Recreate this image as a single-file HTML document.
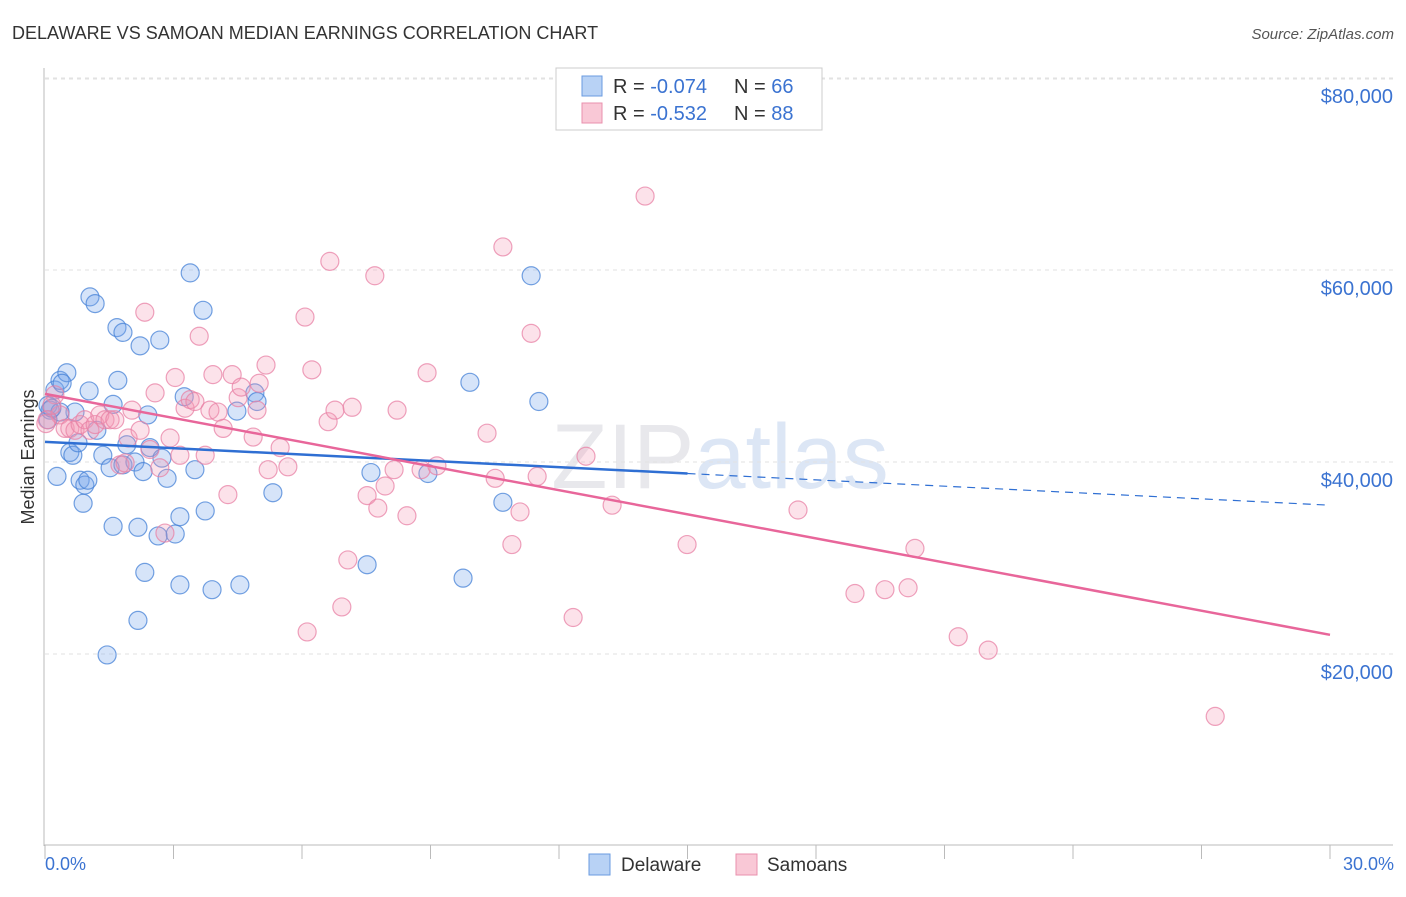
<!DOCTYPE html>
<html><head><meta charset="utf-8"><style>
body{margin:0;background:#fff;font-family:"Liberation Sans",sans-serif;}
svg text{font-family:"Liberation Sans",sans-serif;}
</style></head><body>
<svg id="c" width="1406" height="892" xmlns="http://www.w3.org/2000/svg">
<text x="12" y="39" font-size="18" fill="#333">DELAWARE VS SAMOAN MEDIAN EARNINGS CORRELATION CHART</text>
<text x="1394" y="39" font-size="15" fill="#555" font-style="italic" text-anchor="end">Source: ZipAtlas.com</text>
<text x="720" y="488" font-size="92" fill="#e8e8ec" text-anchor="middle" font-family="Liberation Serif">ZIP<tspan fill="#dce6f5" font-family="Liberation Sans">atlas</tspan></text>
<g id="grid"></g><g id="marks"></g>
<text transform="translate(34,457) rotate(-90)" font-size="18" fill="#333" text-anchor="middle">Median Earnings</text>
<text x="45" y="870" font-size="18" fill="#3b73d1">0.0%</text>
<text x="1394" y="870" font-size="18" fill="#3b73d1" text-anchor="end">30.0%</text>
<g>
<rect x="556" y="68" width="266" height="62" fill="#fff" stroke="#ccc"/>
<rect x="582" y="76" width="20" height="20" fill="#b8d2f5" stroke="#6a9be0"/>
<rect x="582" y="103" width="20" height="20" fill="#f9c8d6" stroke="#e990ad"/>
<text x="613" y="93" font-size="20" fill="#333">R = <tspan fill="#3b73d1">-0.074</tspan></text>
<text x="734" y="93" font-size="20" fill="#333">N = <tspan fill="#3b73d1">66</tspan></text>
<text x="613" y="120" font-size="20" fill="#333">R = <tspan fill="#3b73d1">-0.532</tspan></text>
<text x="734" y="120" font-size="20" fill="#333">N = <tspan fill="#3b73d1">88</tspan></text>
</g>
<g>
<rect x="589" y="854" width="21" height="21" fill="#b8d2f5" stroke="#6a9be0"/>
<text x="621" y="871" font-size="19" fill="#333">Delaware</text>
<rect x="736" y="854" width="21" height="21" fill="#f9c8d6" stroke="#e990ad"/>
<text x="767" y="871" font-size="19" fill="#333">Samoans</text>
</g>
</svg>
<script>
const yTicks=[20000,40000,60000,80000];
const yTickLabels=["$20,000","$40,000","$60,000","$80,000"];
const xTicks=[0,3,6,9,12,15,18,21,24,27,30];
const blueX=[0.12,0.23,0.35,0.51,0.40,0.07,0.28,0.58,0.65,0.70,0.77,0.82,0.89,0.93,1.00,1.03,1.05,1.17,1.21,1.35,1.52,1.59,1.59,1.68,1.70,1.82,1.82,1.91,2.10,2.17,2.22,2.33,2.29,2.40,2.45,2.64,2.68,2.73,2.85,3.04,3.15,3.15,3.25,3.39,3.50,3.69,3.74,3.90,4.48,4.55,4.90,4.95,5.32,7.52,7.61,8.94,9.76,9.92,10.69,11.35,11.53,2.17,1.45,0.07,0.35,0.16];
const blueY=[45.4,47.5,48.5,49.3,48.2,44.4,38.5,41.0,40.7,45.2,42.0,38.1,35.7,37.6,38.1,47.4,57.2,56.5,43.3,40.7,39.4,46.0,33.3,54.0,48.5,53.5,39.7,41.8,40.0,33.2,52.1,28.5,39.0,44.9,41.5,32.3,52.7,40.4,38.3,32.5,34.3,27.2,46.8,59.7,39.2,55.8,34.9,26.7,45.3,27.2,47.2,46.3,36.8,29.3,38.9,38.8,27.9,48.3,35.8,59.4,46.3,23.5,19.9,45.9,45.2,45.6];
const pinkX=[0.23,0.35,0.47,0.58,0.70,0.82,0.93,1.05,1.17,1.28,1.40,1.52,1.63,1.75,1.87,1.94,2.03,2.22,2.33,2.45,2.57,2.68,2.80,2.92,3.04,3.15,3.27,3.39,3.50,3.60,3.74,3.85,3.92,4.04,4.16,4.27,4.37,4.51,4.58,4.86,4.95,5.00,5.16,5.21,5.49,5.67,6.12,6.07,6.23,6.61,6.65,6.77,6.93,7.07,7.17,7.52,7.70,7.77,7.94,8.15,8.22,8.45,8.78,8.92,9.15,10.32,10.51,10.69,10.90,11.09,11.35,11.49,12.33,12.63,13.24,14.01,14.99,17.58,18.91,19.61,20.15,20.31,21.32,22.02,27.32,0.05,0.16,0.02];
const pinkY=[47.0,44.9,43.5,43.5,43.3,43.9,44.4,43.3,43.9,44.9,44.4,44.4,44.4,39.7,39.9,42.5,45.4,43.3,55.6,41.3,47.2,39.4,32.6,42.5,48.8,40.7,45.6,46.5,46.3,53.1,40.7,45.4,49.1,45.2,43.5,36.6,49.1,46.7,47.8,42.6,45.4,48.2,50.1,39.2,41.5,39.5,22.3,55.1,49.6,44.2,60.9,45.4,24.9,29.8,45.7,36.5,59.4,35.2,37.5,39.2,45.4,34.4,39.2,49.3,39.6,43.0,38.3,62.4,31.4,34.8,53.4,38.5,23.8,40.6,35.5,67.7,31.4,35.0,26.3,26.7,26.9,31.0,21.8,20.4,13.5,44.4,45.9,44.0];
const blueTrend=[42.1,35.5];
const pinkTrend=[47.1,22.0];
const NS="http://www.w3.org/2000/svg";
const X=v=>45+v/30*1285;
const Y=v=>846-v/20000*192;
const Yk=v=>Y(v*1000);
function mk(tag,a,parent){const e=document.createElementNS(NS,tag);for(const k in a)e.setAttribute(k,a[k]);parent.appendChild(e);return e;}
const g=document.getElementById('grid'),m=document.getElementById('marks');
yTicks.forEach((t,i)=>{
  const l=mk('line',{x1:45,x2:1393,y1:Y(t),y2:Y(t),stroke:'#e2e2e2','stroke-dasharray':'4,4'},g);
  
  
  const tx=mk('text',{x:1393,y:Y(t)+25,'font-size':20,fill:'#3b73d1','text-anchor':'end'},g);
  tx.textContent=yTickLabels[i];
  
  
});
const topLine=mk('line',{x1:45,x2:1393,y1:79,y2:79,stroke:'#e2e2e2','stroke-dasharray':'4,4'},g);


const ya=mk('line',{x1:44,x2:44,y1:68,y2:846,stroke:'#bbb'},g);


const xa=mk('line',{x1:44,x2:1393,y1:845,y2:845,stroke:'#bbb'},g);


xTicks.forEach(t=>{
  const l=mk('line',{x1:X(t),x2:X(t),y1:845,y2:859,stroke:'#bbb'},g);
  
  
});
blueX.forEach((v,i)=>{
  const c=mk('circle',{cx:X(v),cy:Yk(blueY[i]),r:9,fill:'rgba(120,165,235,0.3)',stroke:'rgba(70,130,215,0.75)','stroke-width':1.2},m);
  
  
});
pinkX.forEach((v,i)=>{
  const c=mk('circle',{cx:X(v),cy:Yk(pinkY[i]),r:9,fill:'rgba(245,150,180,0.28)',stroke:'rgba(232,130,165,0.75)','stroke-width':1.2},m);
  
  
});
const bMid=blueTrend[0]+(blueTrend[1]-blueTrend[0])*0.5;
const b1=mk('line',{x1:X(0),y1:Yk(blueTrend[0]),x2:X(15),y2:Yk(bMid),stroke:'#2f6fd3','stroke-width':2.5},m);


const b2=mk('line',{x1:X(15),y1:Yk(bMid),x2:X(30),y2:Yk(blueTrend[1]),stroke:'#2f6fd3','stroke-width':1.2,'stroke-dasharray':'8,6'},m);


const p1=mk('line',{x1:X(0),y1:Yk(pinkTrend[0]),x2:X(30),y2:Yk(pinkTrend[1]),stroke:'#e8669a','stroke-width':2.5},m);


</script>
</body></html>
